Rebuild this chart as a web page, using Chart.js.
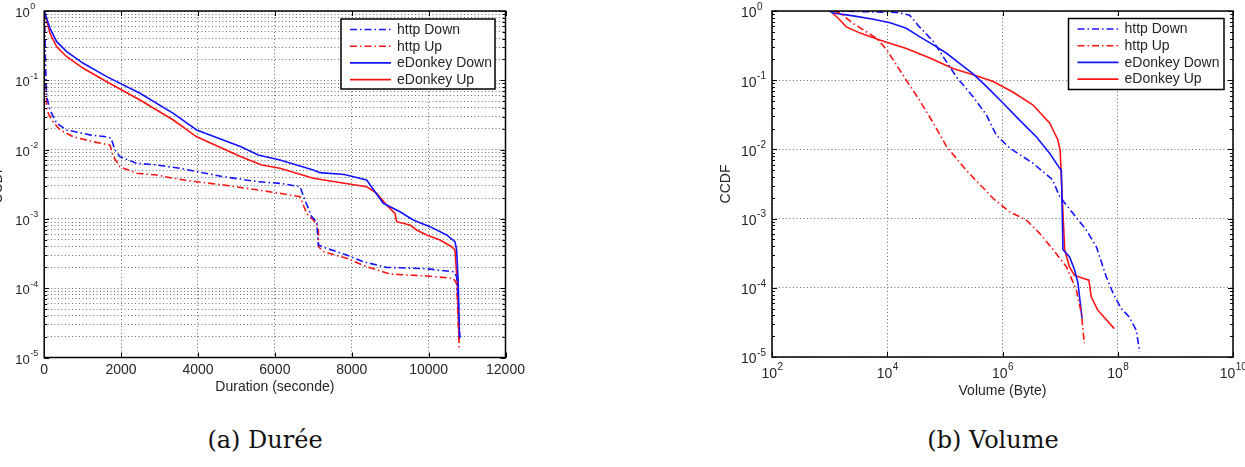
<!DOCTYPE html>
<html>
<head>
<meta charset="utf-8">
<script src="https://cdn.jsdelivr.net/npm/chart.js@4.4.1/dist/chart.umd.min.js"></script>
<style>
  html, body { margin: 0; padding: 0; background: #fff; }
  body { width: 1245px; height: 467px; position: relative; overflow: hidden; }
  canvas { position: absolute; top: 0; }
  #durCanvas { left: -12px; }
  #volCanvas { left: 690px; }
  .caption { position: absolute; top: 426px; width: 200px; font: 24px "DejaVu Serif", serif; line-height: 28px; text-align: center; color: #111; }
</style>
</head>
<body>
<canvas id="durCanvas" width="545" height="405"></canvas>
<canvas id="volCanvas" width="555" height="405"></canvas>
<div class="caption" style="left:165px">(a) Durée</div>
<div class="caption" style="left:893px">(b) Volume</div>
<script>
// CCDF of flow duration (seconds)
const httpDownDurX = [0, 20, 40, 65, 151, 325, 585, 1191, 1626, 1738, 1842, 1972, 2406, 2926, 3532, 3966, 4672, 5568, 6133, 6653, 6783, 6958, 7088, 7130, 7348, 7868, 8300, 8908, 9948, 10642, 10729, 10772, 10815];
const httpDownDurY = [1, 0.398, 0.126, 0.0581, 0.0372, 0.024, 0.0192, 0.0163, 0.0153, 0.0146, 0.00986, 0.00791, 0.00634, 0.006, 0.00537, 0.00481, 0.00406, 0.00344, 0.00326, 0.00292, 0.00187, 0.00108, 0.000912, 0.00042, 0.000376, 0.000301, 0.000241, 0.0002, 0.000191, 0.000173, 0.000147, 0.0000676, 0.0000191];
const httpUpDurX = [0, 20, 40, 65, 195, 411, 757, 1277, 1711, 1798, 1972, 2406, 2926, 3358, 3966, 4672, 5568, 6133, 6653, 6827, 7000, 7130, 7140, 7260, 7868, 8388, 8994, 9948, 10642, 10729, 10798];
const httpUpDurY = [1, 0.316, 0.1, 0.0372, 0.0267, 0.0192, 0.0153, 0.013, 0.0116, 0.00791, 0.00566, 0.00455, 0.00431, 0.00385, 0.00344, 0.00308, 0.00261, 0.00234, 0.00209, 0.0012, 0.000964, 0.000773, 0.000397, 0.000337, 0.00027, 0.000204, 0.00016, 0.00015, 0.000139, 0.000117, 0.0000129];
const eDonkeyDownDurX = [0, 151, 325, 585, 1017, 1626, 2492, 3358, 3966, 5120, 5568, 6133, 7000, 7174, 7807, 8388, 8604, 8820, 9254, 9600, 10035, 10469, 10685, 10729, 10772, 10800];
const eDonkeyDownDurY = [1, 0.562, 0.361, 0.259, 0.176, 0.113, 0.0649, 0.0334, 0.0192, 0.011, 0.00836, 0.00708, 0.00508, 0.00465, 0.00437, 0.00364, 0.00247, 0.00168, 0.00127, 0.000964, 0.000773, 0.000586, 0.000469, 0.000356, 0.000117, 0.00002];
const eDonkeyUpDurX = [0, 151, 325, 585, 1017, 1626, 2492, 3358, 3966, 5120, 5658, 6133, 7000, 7807, 8388, 8648, 8908, 9124, 9168, 9514, 9688, 9948, 10295, 10599, 10685, 10746, 10798];
const eDonkeyUpDurY = [1, 0.476, 0.305, 0.219, 0.149, 0.0955, 0.052, 0.0267, 0.0153, 0.00791, 0.006, 0.00537, 0.00385, 0.00326, 0.00292, 0.00234, 0.00158, 0.0012, 0.000912, 0.000817, 0.000692, 0.000586, 0.000495, 0.000397, 0.000356, 0.000117, 0.0000178];

// CCDF of flow volume (bytes)
const httpDownVolX = [1.15e3, 1.45e4, 2.45e4, 3.63e4, 6.31e4, 9.33e4, 1.58e5, 3.09e5, 5.25e5, 7.76e5, 1.32e6, 3.39e6, 7.41e6, 9.77e6, 1.66e7, 2.82e7, 4.27e7, 6.31e7, 8.32e7, 1.15e8, 1.58e8, 2.09e8, 2.4e8];
const httpDownVolY = [1, 0.955, 0.871, 0.589, 0.363, 0.219, 0.112, 0.0575, 0.0316, 0.0162, 0.0105, 0.00631, 0.00363, 0.00209, 0.0012, 0.000692, 0.000389, 0.000145, 0.0000832, 0.0000501, 0.000038, 0.0000245, 0.000012];
const httpUpVolX = [1.15e3, 1.51e3, 2.57e3, 6.46e3, 9.77e3, 2.14e4, 3.63e4, 6.31e4, 1.07e5, 2.34e5, 6.92e5, 1.32e6, 2.57e6, 4.37e6, 7.59e6, 1.29e7, 1.91e7, 2.34e7, 2.63e7];
const httpUpVolY = [1, 0.933, 0.661, 0.407, 0.275, 0.1, 0.0513, 0.024, 0.011, 0.00501, 0.00195, 0.00126, 0.000955, 0.000617, 0.000355, 0.0002, 0.0000933, 0.0000427, 0.0000158];
const eDonkeyDownVolX = [1.0e3, 1.15e3, 2.57e3, 5.75e3, 1.12e4, 2.14e4, 3.63e4, 6.31e4, 1.07e5, 1.82e5, 3.09e5, 5.25e5, 1.02e6, 2.0e6, 3.89e6, 6.61e6, 9.77e6, 1.05e7, 1.12e7, 1.45e7, 1.78e7, 2.04e7, 2.4e7];
const eDonkeyDownVolY = [1, 0.933, 0.851, 0.759, 0.676, 0.562, 0.427, 0.324, 0.245, 0.174, 0.123, 0.0813, 0.0468, 0.0263, 0.0151, 0.00871, 0.00537, 0.00501, 0.000355, 0.000282, 0.000182, 0.000117, 0.0000363];
const eDonkeyUpVolX = [1.02e3, 1.41e3, 1.95e3, 3.39e3, 7.41e3, 2.14e4, 5.5e4, 1.38e5, 3.09e5, 6.92e5, 1.51e6, 3.39e6, 6.61e6, 9.12e6, 1.0e7, 1.1e7, 1.2e7, 1.45e7, 1.78e7, 3.16e7, 3.47e7, 4.47e7, 8.71e7];
const eDonkeyUpVolY = [1, 0.785, 0.589, 0.479, 0.38, 0.288, 0.209, 0.148, 0.12, 0.0955, 0.0676, 0.0437, 0.024, 0.0138, 0.00977, 0.00166, 0.000355, 0.0002, 0.000151, 0.000129, 0.0000741, 0.0000479, 0.0000257];

// axis ticks
const durXTicks = [0, 2000, 4000, 6000, 8000, 10000, 12000];
const volXTicks = [1e2, 1e4, 1e6, 1e8, 1e10];
const ccdfDecades = [1e-5, 1e-4, 1e-3, 1e-2, 1e-1, 1];
const seriesLabels = ["http Down", "http Up", "eDonkey Down", "eDonkey Up"];

const FONT = "'Liberation Sans', Arial, sans-serif";
const TEXT = "#262626";
const BLUE = "#1414ff";
const RED = "#ff1414";
const DASH_DOT = [7, 3, 1.5, 3];
const GRID = "rgba(60,60,60,0.75)";

// 2..9 x each decade, only used for minor grid / tick marks
const ccdfMinor = [];
ccdfDecades.slice(0, -1).forEach((d) => {
  for (let m = 2; m <= 9; m++) ccdfMinor.push(d * m);
});

function series(label, xs, ys, color, dash) {
  return {
    label,
    data: xs.map((x, i) => ({ x, y: ys[i] })),
    borderColor: color,
    borderWidth: 1.6,
    borderDash: dash,
    pointRadius: 0,
    tension: 0,
    fill: false,
  };
}

// box + inward tick marks (matlab style)
const frameTicks = {
  id: "frameTicks",
  afterDraw(chart, args, opts) {
    const { ctx, chartArea: a } = chart;
    const sx = chart.scales.x, sy = chart.scales.y;
    ctx.save();
    ctx.strokeStyle = "#000";
    ctx.lineWidth = 1;
    const xt = (vals, len) => vals.forEach((v) => {
      const p = Math.round(sx.getPixelForValue(v)) + 0.5;
      ctx.beginPath();
      ctx.moveTo(p, a.bottom); ctx.lineTo(p, a.bottom - len);
      ctx.moveTo(p, a.top); ctx.lineTo(p, a.top + len);
      ctx.stroke();
    });
    const yt = (vals, len) => vals.forEach((v) => {
      const p = Math.round(sy.getPixelForValue(v)) + 0.5;
      ctx.beginPath();
      ctx.moveTo(a.left, p); ctx.lineTo(a.left + len, p);
      ctx.moveTo(a.right, p); ctx.lineTo(a.right - len, p);
      ctx.stroke();
    });
    xt(opts.xMajor || [], 5);
    yt(opts.yMajor || [], 5);
    yt(opts.yMinor || [], 3);
    ctx.lineWidth = 1.5;
    ctx.strokeRect(a.left, a.top, a.right - a.left, a.bottom - a.top);
    ctx.restore();
  },
};

// "10^n" labels drawn with a raised exponent
const expLabels = {
  id: "expLabels",
  afterDraw(chart, args, opts) {
    const { ctx, chartArea: a } = chart;
    ctx.save();
    ctx.fillStyle = TEXT;
    ctx.textBaseline = "middle";
    ctx.textAlign = "left";
    const exp = (v) => String(Math.round(Math.log10(v)));
    if (opts.y) {
      const s = chart.scales.y;
      ccdfDecades.forEach((v) => {
        const p = s.getPixelForValue(v);
        const x0 = a.left - opts.y.inset;
        ctx.font = opts.y.base + "px " + FONT;
        ctx.fillText("10", x0, p + 2.5);
        const w = ctx.measureText("10").width;
        ctx.font = opts.y.sup + "px " + FONT;
        ctx.fillText(exp(v), x0 + w + 0.5, p - 4);
      });
    }
    if (opts.x) {
      const s = chart.scales.x;
      volXTicks.forEach((v) => {
        const p = s.getPixelForValue(v);
        ctx.font = opts.x.base + "px " + FONT;
        const w1 = ctx.measureText("10").width;
        ctx.font = opts.x.sup + "px " + FONT;
        const w2 = ctx.measureText(exp(v)).width;
        const x0 = p - (w1 + w2) / 2;
        ctx.font = opts.x.base + "px " + FONT;
        ctx.fillText("10", x0, a.bottom + 17.5);
        ctx.font = opts.x.sup + "px " + FONT;
        ctx.fillText(exp(v), x0 + w1 + 0.5, a.bottom + 10.5);
      });
    }
    ctx.restore();
  },
};

// legend with a black frame, anchored to the top-right of the plot
const legendBox = {
  id: "legendBox",
  afterDraw(chart, args, opts) {
    const { ctx, chartArea: a } = chart;
    const bx = a.right - opts.right - opts.width;
    const by = a.top + opts.top;
    ctx.save();
    ctx.fillStyle = "#fff";
    ctx.fillRect(bx, by, opts.width, opts.height);
    ctx.strokeStyle = "#000";
    ctx.lineWidth = 1.5;
    ctx.strokeRect(bx, by, opts.width, opts.height);
    ctx.font = "14px " + FONT;
    ctx.textBaseline = "middle";
    ctx.fillStyle = TEXT;
    chart.data.datasets.forEach((ds, i) => {
      const y = by + 10.5 + i * 16.7;
      ctx.strokeStyle = ds.borderColor;
      ctx.lineWidth = 1.6;
      ctx.setLineDash(ds.borderDash || []);
      ctx.beginPath();
      ctx.moveTo(bx + 9, y);
      ctx.lineTo(bx + 50, y);
      ctx.stroke();
      ctx.setLineDash([]);
      ctx.fillText(ds.label, bx + 56, y + 0.5);
    });
    ctx.restore();
  },
};

function gridOpts() {
  return { color: GRID, lineWidth: 1, drawTicks: false };
}

// (a) Durée
new Chart(document.getElementById("durCanvas"), {
  type: "line",
  data: {
    datasets: [
      series(seriesLabels[0], httpDownDurX, httpDownDurY, BLUE, DASH_DOT),
      series(seriesLabels[1], httpUpDurX, httpUpDurY, RED, DASH_DOT),
      series(seriesLabels[2], eDonkeyDownDurX, eDonkeyDownDurY, BLUE, []),
      series(seriesLabels[3], eDonkeyUpDurX, eDonkeyUpDurY, RED, []),
    ],
  },
  options: {
    responsive: false,
    animation: false,
    devicePixelRatio: 1,
    layout: { padding: { left: 0, right: 27.5, top: 11, bottom: 0 } },
    plugins: {
      legend: { display: false },
      tooltip: { enabled: false },
      frameTicks: { xMajor: durXTicks, yMajor: ccdfDecades, yMinor: ccdfMinor },
      expLabels: { y: { inset: 29, base: 13, sup: 9 } },
      legendBox: { right: 10.5, top: 8, width: 154, height: 70 },
    },
    scales: {
      x: {
        type: "linear",
        min: 0,
        max: 12000,
        afterBuildTicks: (s) => { s.ticks = durXTicks.map((v) => ({ value: v })); },
        afterFit: (s) => { s.height = 47.5; },
        grid: gridOpts(),
        border: { display: false, dash: [1, 2.5] },
        ticks: {
          padding: 4,
          maxRotation: 0,
          color: TEXT,
          font: { family: FONT, size: 14 },
          callback: (v) => String(v),
        },
        title: {
          display: true,
          text: "Duration (seconde)",
          color: TEXT,
          font: { family: FONT, size: 14 },
          padding: { top: 0, bottom: 9.6 },
        },
      },
      y: {
        type: "logarithmic",
        min: 1e-5,
        max: 1,
        afterBuildTicks: (s) => {
          s.ticks = ccdfDecades.concat(ccdfMinor).sort((p, q) => p - q).map((v) => ({ value: v }));
        },
        afterFit: (s) => { s.width = 56.2; },
        grid: gridOpts(),
        border: { display: false, dash: [1, 2.5] },
        ticks: { display: false },
        title: {
          display: true,
          text: "CCDF",
          color: TEXT,
          font: { family: FONT, size: 14 },
          padding: { top: 1.6, bottom: 0 },
        },
      },
    },
  },
  plugins: [frameTicks, expLabels, legendBox],
});

// (b) Volume
new Chart(document.getElementById("volCanvas"), {
  type: "line",
  data: {
    datasets: [
      series(seriesLabels[0], httpDownVolX, httpDownVolY, BLUE, DASH_DOT),
      series(seriesLabels[1], httpUpVolX, httpUpVolY, RED, DASH_DOT),
      series(seriesLabels[2], eDonkeyDownVolX, eDonkeyDownVolY, BLUE, []),
      series(seriesLabels[3], eDonkeyUpVolX, eDonkeyUpVolY, RED, []),
    ],
  },
  options: {
    responsive: false,
    animation: false,
    devicePixelRatio: 1,
    layout: { padding: { left: 0, right: 12, top: 11, bottom: 0 } },
    plugins: {
      legend: { display: false },
      tooltip: { enabled: false },
      frameTicks: { xMajor: volXTicks, yMajor: ccdfDecades, yMinor: ccdfMinor },
      expLabels: { y: { inset: 31, base: 14, sup: 10 }, x: { base: 14, sup: 10 } },
      legendBox: { right: 9, top: 7.5, width: 155.5, height: 71 },
    },
    scales: {
      x: {
        type: "logarithmic",
        min: 1e2,
        max: 1e10,
        afterBuildTicks: (s) => { s.ticks = volXTicks.map((v) => ({ value: v })); },
        afterFit: (s) => { s.height = 48; },
        grid: gridOpts(),
        border: { display: false, dash: [1, 2.5] },
        ticks: { display: false },
        title: {
          display: true,
          text: "Volume (Byte)",
          color: TEXT,
          font: { family: FONT, size: 14 },
          padding: { top: 0, bottom: 5.6 },
        },
      },
      y: {
        type: "logarithmic",
        min: 1e-5,
        max: 1,
        afterBuildTicks: (s) => { s.ticks = ccdfDecades.map((v) => ({ value: v })); },
        afterFit: (s) => { s.width = 82; },
        grid: gridOpts(),
        border: { display: false, dash: [1, 2.5] },
        ticks: { display: false },
        title: {
          display: true,
          text: "CCDF",
          color: TEXT,
          font: { family: FONT, size: 14 },
          padding: { top: 28, bottom: 0 },
        },
      },
    },
  },
  plugins: [frameTicks, expLabels, legendBox],
});
</script>
</body>
</html>
